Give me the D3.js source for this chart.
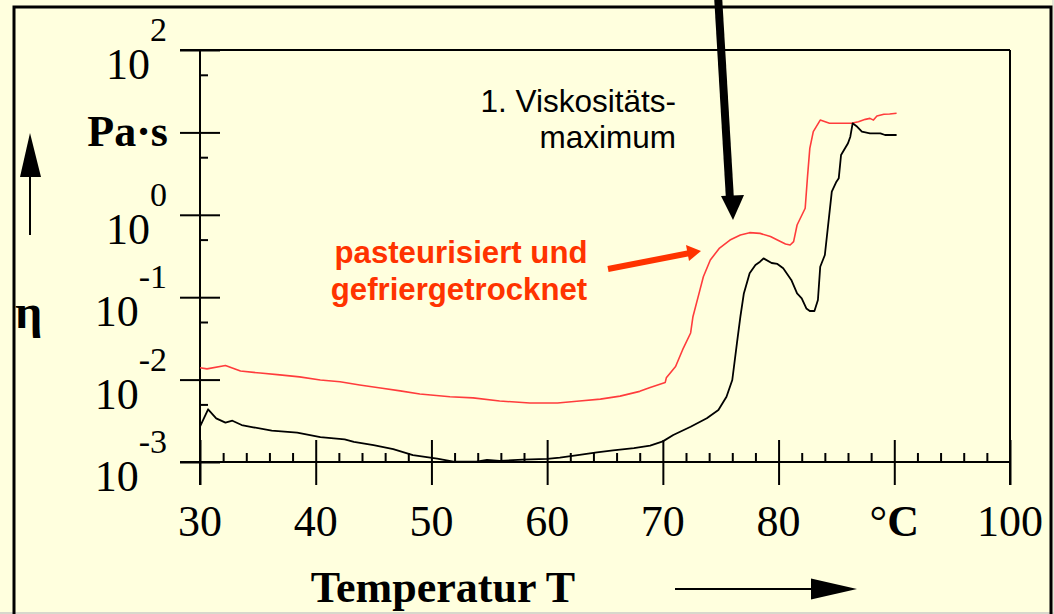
<!DOCTYPE html>
<html><head><meta charset="utf-8">
<script src="https://cdn.jsdelivr.net/npm/d3@7"></script>
<style>
html,body{margin:0;padding:0;background:#ffffde;overflow:hidden;}
svg{display:block;}
</style></head><body>
<svg id="c" width="1054" height="614"></svg>
<script>
// pasteurisiert und gefriergetrocknet (red)
const tempRed = [30.0,30.6,32.2,33.5,35.2,36.9,38.6,40.4,42.1,43.8,45.6,47.3,49.0,51.6,53.6,55.9,58.5,60.9,62.8,64.6,66.3,68.0,68.9,70.2,70.3,71.1,71.7,72.4,72.6,73.2,73.5,74.1,74.9,75.8,76.7,77.5,78.4,79.3,79.9,80.6,81.0,81.3,81.6,82.3,82.5,82.7,83.0,83.6,84.4,86.3,86.9,87.5,87.9,88.2,88.5,89.1,89.6,90.2];
const etaRed = [0.0139,0.0135,0.0148,0.0127,0.0120,0.0114,0.0108,0.0099,0.0094,0.0086,0.0079,0.0073,0.0067,0.0062,0.0060,0.0055,0.0052,0.0052,0.0055,0.0058,0.0063,0.0072,0.0080,0.0092,0.0105,0.0144,0.0229,0.0368,0.058,0.122,0.177,0.283,0.395,0.494,0.569,0.607,0.595,0.545,0.494,0.442,0.430,0.472,0.752,1.20,2.90,6.41,10.2,14.1,12.9,12.9,13.5,14.4,14.8,14.1,15.8,16.6,16.7,17.1];
// reference (black)
const tempBlack = [30.0,30.7,31.4,32.2,32.8,33.6,34.6,36.2,38.4,40.4,42.5,43.3,45.0,46.7,48.4,50.5,51.9,53.9,54.8,55.9,57.9,60.0,61.1,62.8,64.3,65.7,67.5,68.9,70.0,70.9,72.4,73.8,74.8,75.5,76.0,76.4,76.7,77.0,77.5,78.0,78.4,78.7,79.4,79.9,80.4,81.1,81.6,82.0,82.4,82.7,83.1,83.4,83.6,84.0,84.6,85.0,85.2,85.4,86.0,86.2,86.4,86.8,87.2,87.9,88.8,89.2,90.2];
const etaBlack = [0.00268,0.00436,0.00339,0.00300,0.00317,0.00281,0.00264,0.00240,0.00227,0.00200,0.00188,0.00175,0.00160,0.00143,0.00121,0.00110,0.00101,0.00101,0.00106,0.00103,0.00107,0.00109,0.00113,0.00122,0.00131,0.00138,0.00147,0.00158,0.00178,0.00213,0.00268,0.00339,0.00428,0.00620,0.00989,0.0276,0.058,0.111,0.195,0.246,0.270,0.296,0.260,0.253,0.224,0.162,0.111,0.097,0.073,0.068,0.068,0.0925,0.234,0.325,1.91,2.52,2.77,5.32,7.38,8.87,12.9,11.7,10.2,9.75,9.75,9.30,9.30];

const xMajor = [30,40,50,60,70,80,90,100];
const xMajorLabels = ["30","40","50","60","70","80","°C","100"];
const xMinor = [32,34,36,38,42,44,46,48,52,54,56,58,62,64,66,68,72,74,76,78,82,84,86,88,92,94,96,98];
const yMajor = [1e-3,1e-2,1e-1,1,10,100];
const yExponents = ["-3","-2","-1","0",null,"2"];
const yMinor = [5e-3,5e-2,5e-1,5,50];

const serif = "'Liberation Serif','Times New Roman',serif";
const sans = "'Liberation Sans',Arial,sans-serif";

const svg = d3.select("#c");
const x = d3.scaleLinear().domain([30,100]).range([200,1010]);
const y = d3.scaleLog().domain([1e-3,1e2]).range([462,50]);

// outer frame
svg.append("rect").attr("x",0).attr("y",0).attr("width",1054).attr("height",614).attr("fill","#ffffde");
svg.append("rect").attr("x",1052).attr("y",0).attr("width",2).attr("height",614).attr("fill","#e6e6d6");
svg.append("rect").attr("x",0).attr("y",612).attr("width",1054).attr("height",2).attr("fill","#d8d8cc");
svg.append("path").attr("d","M14,620V7H1051V620").attr("fill","none").attr("stroke","#000").attr("stroke-width",3);

// axis lines / plot frame
const fr = svg.append("g").attr("stroke","#000").attr("stroke-width",2).attr("fill","none");
fr.append("line").attr("x1",x(30)).attr("x2",x(30)).attr("y1",y(100)).attr("y2",485);
fr.append("line").attr("x1",x(100)).attr("x2",x(100)).attr("y1",y(100)).attr("y2",485);
fr.append("line").attr("x1",180).attr("x2",x(100)).attr("y1",y(100)).attr("y2",y(100));
fr.append("line").attr("x1",180).attr("x2",x(100)).attr("y1",y(1e-3)).attr("y2",y(1e-3));

function styleAxis(g){ g.select(".domain").remove(); g.selectAll(".tick line").attr("stroke","#000").attr("stroke-width",2); g.selectAll(".tick text").remove(); }

// y ticks
svg.append("g").attr("transform",`translate(${x(30)},0)`).call(d3.axisLeft(y).tickValues(yMajor).tickSize(20).tickFormat("")).call(styleAxis);
svg.append("g").attr("transform",`translate(${x(30)},0)`).call(d3.axisRight(y).tickValues(yMajor).tickSize(20).tickFormat("")).call(styleAxis);
svg.append("g").attr("transform",`translate(${x(30)},0)`).call(d3.axisRight(y).tickValues(yMinor).tickSize(8).tickFormat("")).call(styleAxis);
// x ticks
svg.append("g").attr("transform",`translate(0,${y(1e-3)})`).call(d3.axisTop(x).tickValues(xMajor).tickSize(22).tickFormat("")).call(styleAxis);
svg.append("g").attr("transform",`translate(0,${y(1e-3)})`).call(d3.axisBottom(x).tickValues(xMajor).tickSize(23).tickFormat("")).call(styleAxis);
svg.append("g").attr("transform",`translate(0,${y(1e-3)})`).call(d3.axisTop(x).tickValues(xMinor).tickSize(9).tickFormat("")).call(styleAxis);

// curves
const line = d3.line().x(d=>x(d[0])).y(d=>y(d[1]));
svg.append("path").datum(d3.zip(tempRed,etaRed)).attr("d",line).attr("fill","none").attr("stroke","#ff3c3c").attr("stroke-width",1.6).attr("stroke-linejoin","round");
svg.append("path").datum(d3.zip(tempBlack,etaBlack)).attr("d",line).attr("fill","none").attr("stroke","#000").attr("stroke-width",1.8).attr("stroke-linejoin","round");

// x labels
xMajor.forEach((v,i)=>{
  const t = svg.append("text").attr("x",x(v)).attr("y",536).attr("text-anchor","middle")
    .attr("font-family",serif).attr("font-size",44).attr("fill","#000");
  if (xMajorLabels[i]==="°C"){ t.append("tspan").text("°"); t.append("tspan").attr("font-weight","bold").text("C"); }
  else t.text(xMajorLabels[i]);
});
// y labels
yMajor.forEach((v,i)=>{
  if (yExponents[i]===null) return;
  const t = svg.append("text").attr("x",167).attr("y",y(v)+29).attr("text-anchor","end")
    .attr("font-family",serif).attr("font-size",44).attr("fill","#000");
  t.append("tspan").text("10");
  t.append("tspan").attr("font-size",34).attr("dy",-38).text(yExponents[i]);
});
svg.append("text").attr("x",168).attr("y",y(10)+14).attr("text-anchor","end").attr("font-family",serif)
  .attr("font-size",44).attr("font-weight","bold").text("Pa·s");
svg.append("text").attr("x",15).attr("y",328).attr("font-family",serif).attr("font-size",48).attr("font-weight","bold").text("η");

// left up arrow
svg.append("line").attr("x1",30).attr("x2",30).attr("y1",235).attr("y2",172).attr("stroke","#000").attr("stroke-width",2);
svg.append("path").attr("d","M30,133L41,177L20,177Z").attr("fill","#000");

// x title
svg.append("text").attr("x",443).attr("y",602).attr("text-anchor","middle").attr("font-family",serif)
  .attr("font-size",44).attr("font-weight","bold").text("Temperatur T");
svg.append("line").attr("x1",675).attr("x2",815).attr("y1",589).attr("y2",589).attr("stroke","#000").attr("stroke-width",2);
svg.append("path").attr("d","M857,589L811,578.5L811,599.5Z").attr("fill","#000");

// annotation 1
svg.append("text").attr("x",676).attr("y",112).attr("text-anchor","end").attr("font-family",sans).attr("font-size",31.5).text("1. Viskositäts-");
svg.append("text").attr("x",676).attr("y",148).attr("text-anchor","end").attr("font-family",sans).attr("font-size",31.5).text("maximum");
svg.append("line").attr("x1",718).attr("y1",-5).attr("x2",730).attr("y2",200).attr("stroke","#000").attr("stroke-width",8);
svg.append("path").attr("d","M733,220L721,196L744,195Z").attr("fill","#000");

// annotation red
svg.append("text").attr("x",461).attr("y",263).attr("text-anchor","middle").attr("font-family",sans).attr("font-size",31.2).attr("font-weight","bold").attr("fill","#ff3300").text("pasteurisiert und");
svg.append("text").attr("x",459).attr("y",300).attr("text-anchor","middle").attr("font-family",sans).attr("font-size",31.2).attr("font-weight","bold").attr("fill","#ff3300").text("gefriergetrocknet");
svg.append("line").attr("x1",608).attr("y1",269).attr("x2",690).attr("y2",253).attr("stroke","#ff3300").attr("stroke-width",6);
svg.append("path").attr("d","M701,251L686,245L689,261Z").attr("fill","#ff3300");
</script>
</body></html>
